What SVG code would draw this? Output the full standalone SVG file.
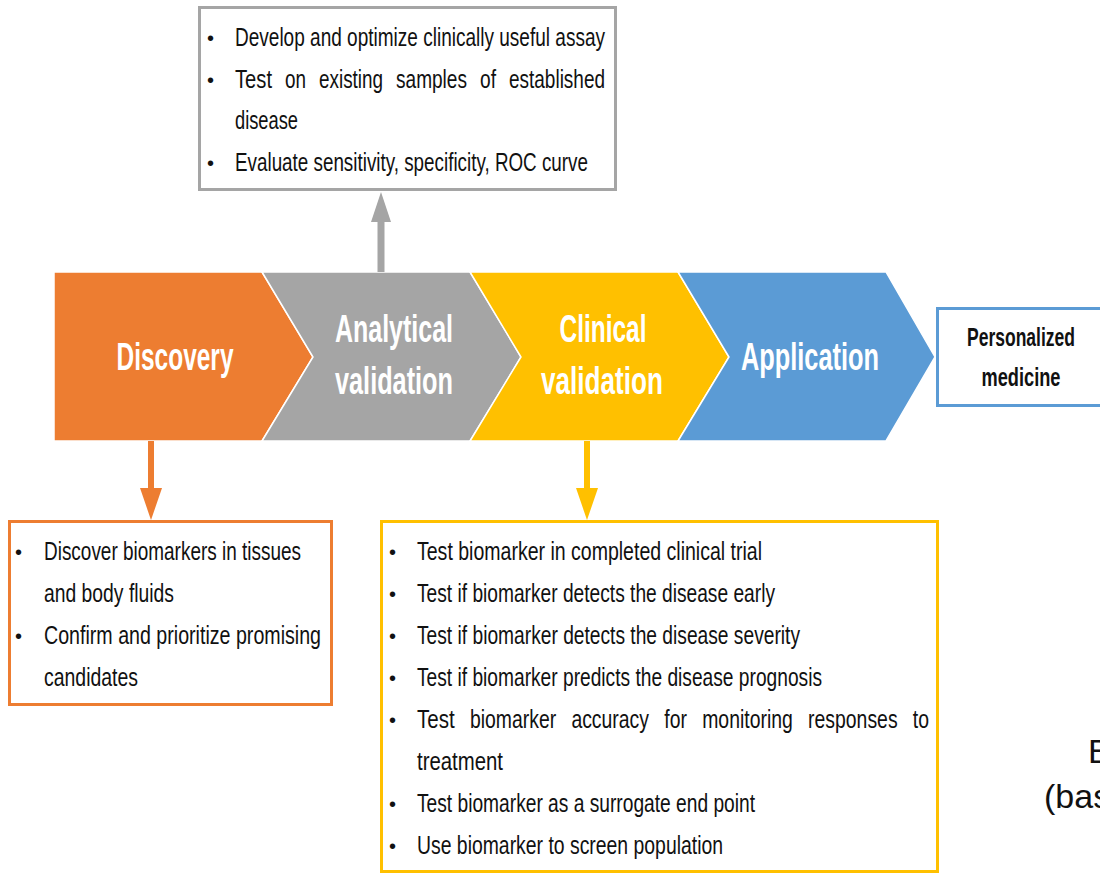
<svg xmlns="http://www.w3.org/2000/svg" width="1100" height="873" viewBox="0 0 1100 873">
<style>
.t{font-family:"Liberation Sans",Arial,sans-serif;font-size:25px;fill:#111}
.b{font-family:"Liberation Sans",Arial,sans-serif;font-size:20px;fill:#111}
.h{font-family:"Liberation Sans",Arial,sans-serif;font-size:38px;font-weight:bold;fill:#fff;text-anchor:middle}
.p{font-family:"Liberation Sans",Arial,sans-serif;font-size:25px;font-weight:bold;fill:#111;text-anchor:middle}
.chev{stroke:#fff;stroke-width:1.5}
</style>
<rect width="1100" height="873" fill="#fff"/>

<g id="chevrons">
<g id="discovery">
<path class="chev" d="M54,272 L262,272 L313,357 L262,441 L54,441 Z" fill="#ED7D31"/>
<text class="h" x="175" y="370" textLength="117" lengthAdjust="spacingAndGlyphs">Discovery</text>
</g>
<g id="analytical">
<path class="chev" d="M262,272 L470,272 L521,357 L470,441 L262,441 L313,357 Z" fill="#A5A5A5"/>
<text class="h" x="394" y="342" textLength="118" lengthAdjust="spacingAndGlyphs">Analytical</text>
<text class="h" x="394" y="394" textLength="118" lengthAdjust="spacingAndGlyphs">validation</text>
</g>
<g id="clinical">
<path class="chev" d="M470,272 L678,272 L729,357 L678,441 L470,441 L521,357 Z" fill="#FFC000"/>
<text class="h" x="603" y="342" textLength="87" lengthAdjust="spacingAndGlyphs">Clinical</text>
<text class="h" x="602" y="394" textLength="122" lengthAdjust="spacingAndGlyphs">validation</text>
</g>
<g id="application">
<path class="chev" d="M678,272 L886,272 L935,357 L886,441 L678,441 L729,357 Z" fill="#5B9BD5"/>
<text class="h" x="810" y="370" textLength="138" lengthAdjust="spacingAndGlyphs">Application</text>
</g>
</g>

<g id="personalized">
<rect x="937.5" y="308.5" width="180" height="97" fill="#fff" stroke="#5B9BD5" stroke-width="3"/>
<text class="p" x="1021" y="346" textLength="108" lengthAdjust="spacingAndGlyphs">Personalized</text>
<text class="p" x="1021" y="386" textLength="79" lengthAdjust="spacingAndGlyphs">medicine</text>
</g>

<g id="connectors">
<line x1="381" y1="272" x2="381" y2="220" stroke="#A5A5A5" stroke-width="7"/>
<polygon points="371,222 391,222 381,192" fill="#A5A5A5"/>
<line x1="151" y1="441" x2="151" y2="490" stroke="#ED7D31" stroke-width="6"/>
<polygon points="140,488 162,488 151,520" fill="#ED7D31"/>
<line x1="587" y1="441" x2="587" y2="490" stroke="#FFC000" stroke-width="6"/>
<polygon points="576,488 598,488 587,520" fill="#FFC000"/>
</g>

<g id="analytical-box">
<rect x="199.5" y="7.5" width="416" height="182" fill="#fff" stroke="#A5A5A5" stroke-width="3"/>
<text class="b" x="207" y="45">•</text>
<text class="t" x="235" y="46" textLength="370" lengthAdjust="spacingAndGlyphs">Develop and optimize clinically useful assay</text>
<text class="b" x="207" y="87">•</text>
<text class="t" x="235" y="88" textLength="37" lengthAdjust="spacingAndGlyphs">Test</text>
<text class="t" x="285" y="88" textLength="21" lengthAdjust="spacingAndGlyphs">on</text>
<text class="t" x="319" y="88" textLength="64" lengthAdjust="spacingAndGlyphs">existing</text>
<text class="t" x="396" y="88" textLength="71" lengthAdjust="spacingAndGlyphs">samples</text>
<text class="t" x="480" y="88" textLength="16" lengthAdjust="spacingAndGlyphs">of</text>
<text class="t" x="509" y="88" textLength="96" lengthAdjust="spacingAndGlyphs">established</text>
<text class="t" x="235" y="129" textLength="63" lengthAdjust="spacingAndGlyphs">disease</text>
<text class="b" x="207" y="170">•</text>
<text class="t" x="235" y="171" textLength="353" lengthAdjust="spacingAndGlyphs">Evaluate sensitivity, specificity, ROC curve</text>
</g>

<g id="discovery-box">
<rect x="9.5" y="521.5" width="322" height="183" fill="#fff" stroke="#ED7D31" stroke-width="3"/>
<text class="b" x="15" y="559">•</text>
<text class="t" x="44" y="560" textLength="257" lengthAdjust="spacingAndGlyphs">Discover biomarkers in tissues</text>
<text class="t" x="44" y="602" textLength="130" lengthAdjust="spacingAndGlyphs">and body fluids</text>
<text class="b" x="15" y="643">•</text>
<text class="t" x="44" y="644" textLength="277" lengthAdjust="spacingAndGlyphs">Confirm and prioritize promising</text>
<text class="t" x="44" y="686" textLength="94" lengthAdjust="spacingAndGlyphs">candidates</text>
</g>

<g id="clinical-box">
<rect x="381.5" y="521.5" width="556" height="350" fill="#fff" stroke="#FFC000" stroke-width="3"/>
<text class="b" x="389" y="559">•</text>
<text class="t" x="417" y="560" textLength="345" lengthAdjust="spacingAndGlyphs">Test biomarker in completed clinical trial</text>
<text class="b" x="389" y="601">•</text>
<text class="t" x="417" y="602" textLength="358" lengthAdjust="spacingAndGlyphs">Test if biomarker detects the disease early</text>
<text class="b" x="389" y="643">•</text>
<text class="t" x="417" y="644" textLength="383" lengthAdjust="spacingAndGlyphs">Test if biomarker detects the disease severity</text>
<text class="b" x="389" y="685">•</text>
<text class="t" x="417" y="686" textLength="405" lengthAdjust="spacingAndGlyphs">Test if biomarker predicts the disease prognosis</text>
<text class="b" x="389" y="727">•</text>
<text class="t" x="417" y="728" textLength="37.7" lengthAdjust="spacingAndGlyphs">Test</text>
<text class="t" x="470" y="728" textLength="86.2" lengthAdjust="spacingAndGlyphs">biomarker</text>
<text class="t" x="571.4" y="728" textLength="77.6" lengthAdjust="spacingAndGlyphs">accuracy</text>
<text class="t" x="664.3" y="728" textLength="22.6" lengthAdjust="spacingAndGlyphs">for</text>
<text class="t" x="702.2" y="728" textLength="90.6" lengthAdjust="spacingAndGlyphs">monitoring</text>
<text class="t" x="808.1" y="728" textLength="89.5" lengthAdjust="spacingAndGlyphs">responses</text>
<text class="t" x="912.8" y="728" textLength="16.2" lengthAdjust="spacingAndGlyphs">to</text>
<text class="t" x="417" y="770" textLength="86" lengthAdjust="spacingAndGlyphs">treatment</text>
<text class="b" x="389" y="811">•</text>
<text class="t" x="417" y="812" textLength="338" lengthAdjust="spacingAndGlyphs">Test biomarker as a surrogate end point</text>
<text class="b" x="389" y="853">•</text>
<text class="t" x="417" y="854" textLength="306" lengthAdjust="spacingAndGlyphs">Use biomarker to screen population</text>
</g>

<g id="caption">
<text x="1088" y="763" font-family="Liberation Sans, Arial, sans-serif" font-size="34" fill="#111">B</text>
<text x="1044" y="808" font-family="Liberation Sans, Arial, sans-serif" font-size="34" fill="#111">(bas</text>
</g>
</svg>
